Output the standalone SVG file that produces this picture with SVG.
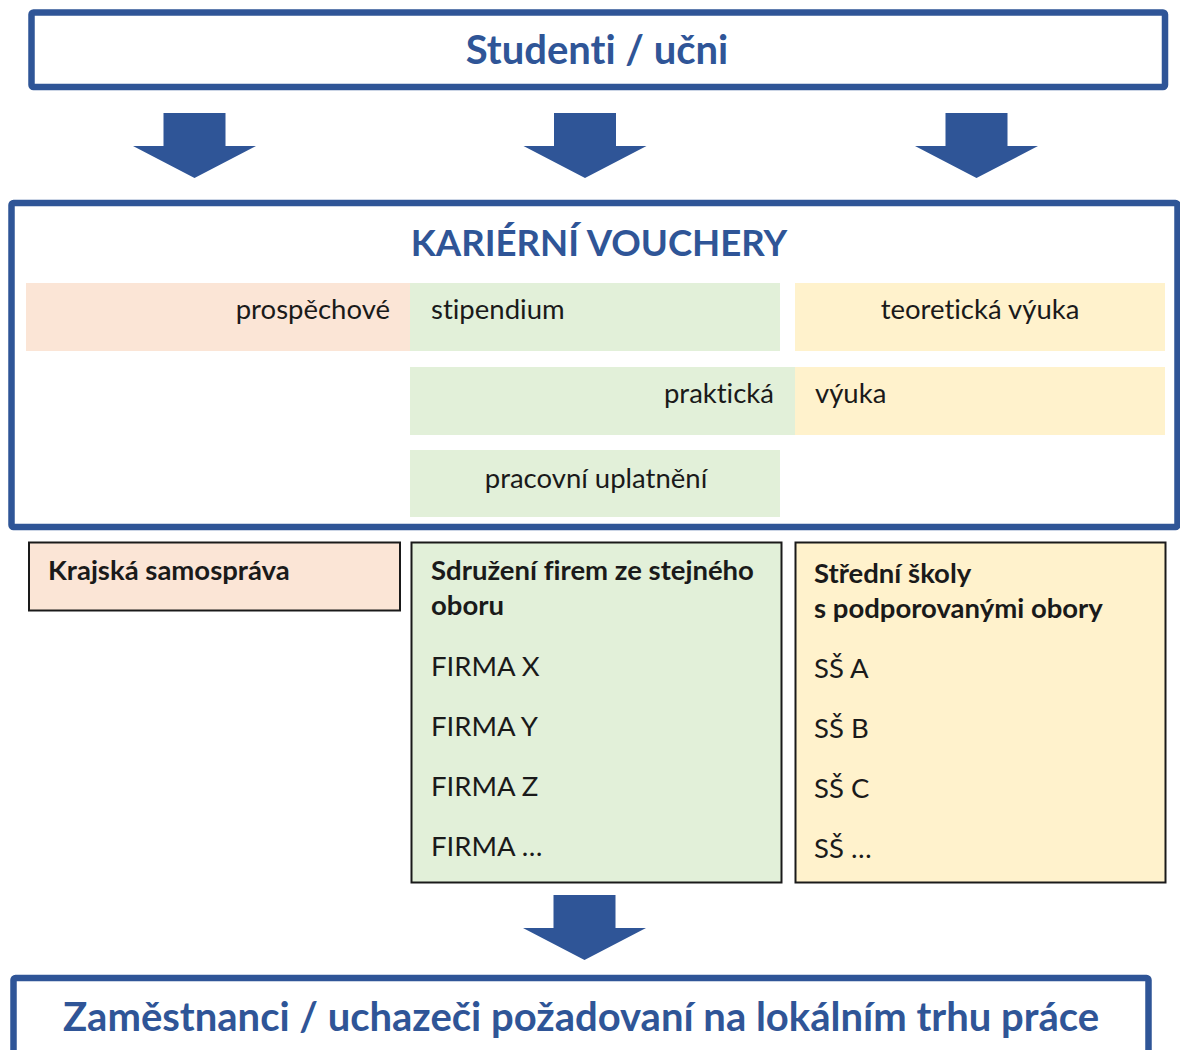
<svg xmlns="http://www.w3.org/2000/svg" width="1180" height="1050" viewBox="0 0 1180 1050">
<style>
text{font-variant-ligatures:none}
.frame{fill:#fff;stroke:#2F5597;stroke-width:6.5}
.title{font-family:Lato,"Open Sans","Liberation Sans",sans-serif;font-weight:bold;fill:#2F5597}
.t{font-family:Lato,"Open Sans","Liberation Sans",sans-serif;font-size:27.5px;fill:#1a1a1a}
.b{font-family:Lato,"Open Sans","Liberation Sans",sans-serif;font-size:27.5px;font-weight:bold;fill:#1a1a1a}
.arrow{fill:#2F5597}
.box{stroke:#1a1a1a;stroke-width:2}
.pink{fill:#FBE5D6}
.green{fill:#E2F0D9}
.yellow{fill:#FFF2CC}
</style>
<defs>
<path id="arr" d="M-31,0 H31 V33 H61.5 L0,65 L-61.5,33 H-31 Z"/>
</defs>
<g id="students">
<rect class="frame" x="31.5" y="12.5" width="1133.5" height="74.5" rx="2"/>
<text class="title" x="597" y="64" font-size="40" text-anchor="middle">Studenti / učni</text>
</g>
<g id="connectors">
<use href="#arr" class="arrow" x="194.5" y="113"/>
<use href="#arr" class="arrow" x="585" y="113"/>
<use href="#arr" class="arrow" x="976.5" y="113"/>
<use href="#arr" class="arrow" x="584.5" y="895"/>
</g>
<g id="vouchers">
<rect class="frame" x="11.5" y="203" width="1166" height="324" rx="2" stroke-width="7"/>
<text class="title" x="599" y="256" font-size="36.6" text-anchor="middle">KARIÉRNÍ VOUCHERY</text>
<rect class="pink" x="26" y="283" width="384" height="68"/>
<rect class="green" x="410" y="283" width="370" height="68"/>
<rect class="yellow" x="795" y="283" width="370" height="68"/>
<rect class="green" x="410" y="367" width="385" height="68"/>
<rect class="yellow" x="795" y="367" width="370" height="68"/>
<rect class="green" x="410" y="450" width="370" height="67"/>
<text class="t" x="390" y="319" text-anchor="end">prospěchové</text>
<text class="t" x="431" y="319">stipendium</text>
<text class="t" x="980" y="319" text-anchor="middle">teoretická výuka</text>
<text class="t" x="774" y="403" text-anchor="end">praktická</text>
<text class="t" x="815" y="403">výuka</text>
<text class="t" x="596" y="488" text-anchor="middle">pracovní uplatnění</text>
</g>
<g id="region">
<rect class="box pink" x="29" y="542.5" width="371" height="68"/>
<text class="b" x="48" y="580">Krajská samospráva</text>
</g>
<g id="firms">
<rect class="box green" x="411.5" y="542.5" width="370" height="340"/>
<text class="b" x="431" y="580">Sdružení firem ze stejného</text>
<text class="b" x="431" y="615">oboru</text>
<text class="t" x="431" y="676">FIRMA X</text>
<text class="t" x="431" y="736">FIRMA Y</text>
<text class="t" x="431" y="796">FIRMA Z</text>
<text class="t" x="431" y="856">FIRMA …</text>
</g>
<g id="schools">
<rect class="box yellow" x="795.5" y="542.5" width="370" height="340"/>
<text class="b" x="814" y="583">Střední školy</text>
<text class="b" x="814" y="618">s podporovanými obory</text>
<text class="t" x="814" y="678">SŠ A</text>
<text class="t" x="814" y="738">SŠ B</text>
<text class="t" x="814" y="798">SŠ C</text>
<text class="t" x="814" y="858">SŠ …</text>
</g>
<g id="employees">
<rect class="frame" x="13.5" y="978" width="1135" height="90" rx="2"/>
<text class="title" x="581" y="1031" font-size="40" text-anchor="middle">Zaměstnanci / uchazeči požadovaní na lokálním trhu práce</text>
</g>
</svg>
